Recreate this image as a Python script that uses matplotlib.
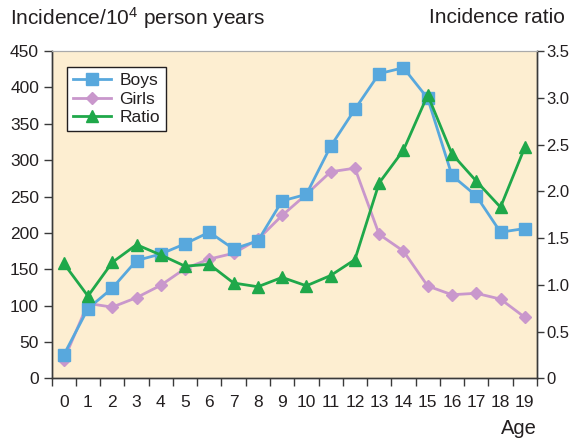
import matplotlib
matplotlib.use("Agg")
import matplotlib.pyplot as plt
import numpy as np

plt.rcParams["font.family"] = ["Liberation Sans", "DejaVu Sans"]
plt.rcParams["mathtext.fontset"] = "custom"
plt.rcParams["mathtext.rm"] = "Liberation Sans"
plt.rcParams["mathtext.it"] = "Liberation Sans"

ages = list(range(20))
boys = [32, 96, 124, 162, 171, 185, 201, 178, 189, 244,
        253, 319, 370, 419, 427, 385, 279, 251, 201, 206]
girls = [25, 103, 98, 111, 128, 151, 164, 172, 191, 224,
         253, 284, 289, 198, 175, 127, 115, 117, 109, 84]
ratio = [1.23, 0.88, 1.24, 1.43, 1.32, 1.20, 1.22, 1.02, 0.98, 1.08,
         0.99, 1.10, 1.27, 2.09, 2.44, 3.03, 2.40, 2.11, 1.83, 2.47]

left_ticks = [0, 50, 100, 150, 200, 250, 300, 350, 400, 450]
right_ticks = [0, 0.5, 1.0, 1.5, 2.0, 2.5, 3.0, 3.5]
right_labels = ["0", "0.5", "1.0", "1.5", "2.0", "2.5", "3.0", "3.5"]

blue = "#58a8dd"
pink = "#c997cc"
green = "#1fa84a"
txt = "#231f20"
axcol = "#3a3a3a"

fig = plt.figure(figsize=(5.73, 4.40), dpi=100)
ax = fig.add_axes([0.090, 0.140, 0.847, 0.744])
ax.set_facecolor("#fdeed1")
ax2 = ax.twinx()

lb, = ax.plot(ages, boys, color=blue, lw=2, marker="s", ms=8, label="Boys", zorder=3)
lg, = ax.plot(ages, girls, color=pink, lw=2, marker="D", ms=6, label="Girls", zorder=2)
lr, = ax2.plot(ages, ratio, color=green, lw=2, marker="^", ms=9, label="Ratio", zorder=4)

ax.set_xlim(-0.5, 19.5)
ax.set_ylim(0, 450)
ax2.set_ylim(0, 3.5)

ax.set_yticks(left_ticks)
ax.set_yticklabels([str(t) for t in left_ticks])
ax2.set_yticks(right_ticks)
ax2.set_yticklabels(right_labels)

ax.set_xticks(np.arange(-0.5, 20, 1))
ax.set_xticklabels([])
ax.set_xticks(ages, minor=True)
ax.set_xticklabels([str(a) for a in ages], minor=True)
ax.tick_params(axis="x", which="major", direction="out", length=6, width=1, color=axcol)
ax.tick_params(axis="x", which="minor", length=0, labelsize=12.5, labelcolor=txt, pad=12)
ax.tick_params(axis="y", direction="out", length=6, width=1, color=axcol,
               labelsize=12.5, labelcolor=txt, pad=3)
ax2.tick_params(axis="y", direction="out", length=5, width=1, color=axcol,
                labelsize=12, labelcolor=txt, pad=2)

for a in (ax, ax2):
    for side in ("left", "right", "bottom"):
        a.spines[side].set_color(axcol)
        a.spines[side].set_linewidth(1)
    a.spines["top"].set_color("#aaaaaa")
    a.spines["top"].set_linewidth(0.8)

leg = ax2.legend(handles=[lb, lg, lr], loc="upper left", bbox_to_anchor=(0.031, 0.952),
                 borderaxespad=0, fontsize=12.5, frameon=True, fancybox=False,
                 framealpha=1, edgecolor=txt, handlelength=2.2, borderpad=0.35,
                 labelspacing=0.2, handletextpad=0.5)
leg.get_frame().set_linewidth(1)
for t in leg.get_texts():
    t.set_color(txt)

fig.text(0.017, 0.96, r"Incidence/10$^{4}$ person years", fontsize=15, color=txt,
         va="center", ha="left")
fig.text(0.986, 0.96, "Incidence ratio", fontsize=15, color=txt, va="center", ha="right")
fig.text(0.937, 0.027, "Age", fontsize=14.5, color=txt, va="center", ha="right")

fig.savefig("out.png", dpi=100)
